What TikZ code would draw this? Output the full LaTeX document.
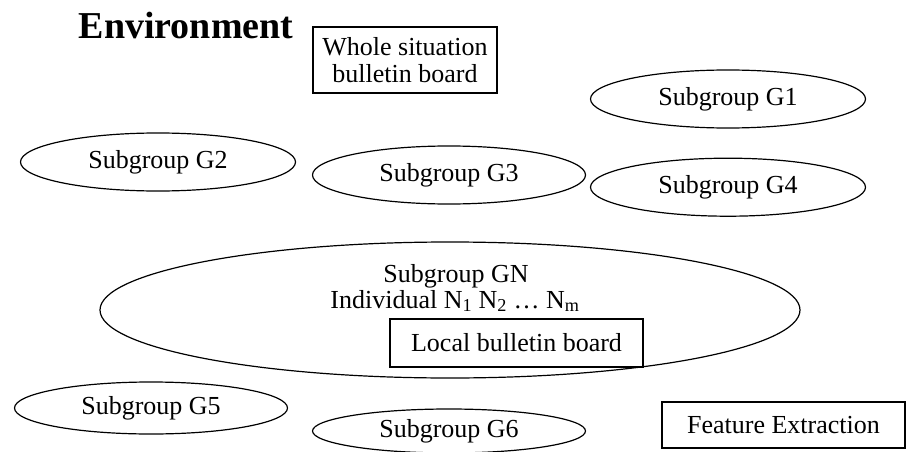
\documentclass[tikz,border=0pt]{standalone}
\usepackage{fontspec}
\usepackage{tikz}
\usetikzlibrary{shapes.geometric,positioning}
\setmainfont{Liberation Serif}

\begin{document}
\begin{tikzpicture}[
  x=1pt, y=-1pt,
  font=\fontsize{26}{27}\selectfont,
  grp/.style={draw, ellipse, line width=1.2pt, inner sep=0pt, minimum width=275pt, minimum height=58pt},
  board/.style={draw, line width=1.2pt, inner sep=0pt, align=center}
]
\useasboundingbox (0,0) rectangle (907,452);
\node[font=\fontsize{38}{40}\selectfont\bfseries] (env) at (186,26) {Environment};
\node[board, minimum width=184pt, minimum height=66pt] (whole) at (405,60) {Whole situation\\bulletin board};
\node[grp] (g1) at (728,99) {Subgroup G1};
\node[grp, minimum height=58pt] (g2) at (158,162) {Subgroup G2};
\node[grp, minimum width=273pt] (g3) at (449,175) {Subgroup G3};
\node[grp, below=29pt of g1] (g4) {Subgroup G4};
\node[grp, minimum width=700pt, minimum height=136pt] (gn) at (450,310) {};
\node (gnname) at (456,276) {Subgroup GN};
\node (gnind) at (455,301) {Individual N\textsubscript{1} N\textsubscript{2} \ldots{} N\textsubscript{m}};
\node[board, minimum width=253pt, minimum height=48pt] (local) at (516.5,343) {Local bulletin board};
\node[grp, minimum width=273pt, minimum height=52pt] (g5) at (151,408) {Subgroup G5};
\node[grp, minimum width=273pt, minimum height=44pt] (g6) at (449,431) {Subgroup G6};
\node[board, minimum width=243pt, minimum height=46pt] (feat) at (783.5,425) {Feature Extraction};
\end{tikzpicture}
\end{document}
